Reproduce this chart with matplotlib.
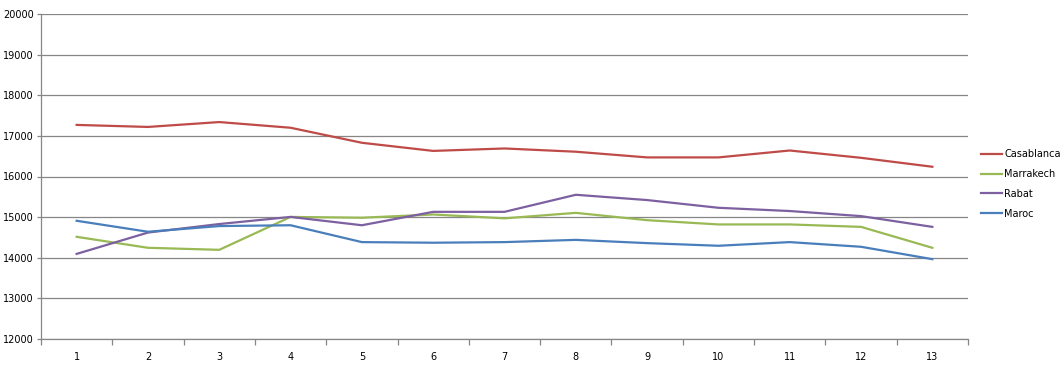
import matplotlib
matplotlib.use("Agg")
import matplotlib.pyplot as plt
from matplotlib.ticker import FixedLocator, NullFormatter

categories = list(range(1, 14))
casablanca = [17270, 17220, 17340, 17200, 16830, 16630, 16690, 16610, 16470, 16470, 16640, 16460, 16240]
marrakech = [14515, 14245, 14195, 15005, 14985, 15065, 14970, 15105, 14925, 14820, 14820, 14760, 14245]
rabat = [14095, 14620, 14830, 15005, 14800, 15130, 15130, 15550, 15420, 15230, 15150, 15025, 14760]
maroc = [14910, 14640, 14780, 14800, 14385, 14370, 14385, 14440, 14360, 14295, 14385, 14270, 13965]
series = [("Casablanca", casablanca, "#BE4B48"),
          ("Marrakech", marrakech, "#98B954"),
          ("Rabat", rabat, "#7D60A0"),
          ("Maroc", maroc, "#4A7EBB")]

plt.rcParams['font.family'] = ['DejaVu Sans']
fig = plt.figure(figsize=(10.63, 3.67), dpi=100)
ax = fig.add_axes([41/1063, 1-339/367, (968-41)/1063, (339-14)/367])

for name, vals, col in series:
    ax.plot(categories, vals, color=col, lw=1.6, label=name)

ax.set_xlim(0.5, 13.5)
ax.set_ylim(12000, 20000)
ax.set_yticks(range(12000, 20001, 1000))
ax.yaxis.grid(True, color="#868686", lw=0.9)
ax.set_axisbelow(True)
for s in ["top", "right"]:
    ax.spines[s].set_visible(False)
for s in ["left", "bottom"]:
    ax.spines[s].set_color("#868686")
    ax.spines[s].set_linewidth(0.9)

ax.xaxis.set_major_locator(FixedLocator([x + 0.5 for x in range(0, 14)]))
ax.xaxis.set_major_formatter(NullFormatter())
ax.xaxis.set_minor_locator(FixedLocator(categories))
ax.set_xticklabels([str(c) for c in categories], minor=True)
ax.tick_params(axis="x", which="major", length=4, color="#868686", width=0.9)
ax.tick_params(axis="x", which="minor", length=0, labelsize=7, pad=9)
ax.tick_params(axis="y", length=3, color="#868686", width=0.9, labelsize=7, pad=2)

leg = fig.legend(loc="center left", bbox_to_anchor=(978/1063, 1-184/367),
                 frameon=False, fontsize=7, handlelength=2.2, handletextpad=0.2,
                 labelspacing=1.0, borderaxespad=0, borderpad=0.3)

fig.savefig("out.png", dpi=100)
